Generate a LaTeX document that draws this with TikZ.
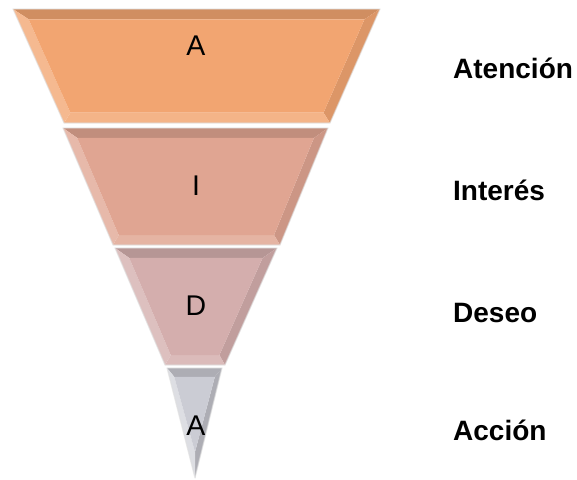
\documentclass[tikz,border=0pt]{standalone}
\usepackage{fontspec}
\setmainfont{Liberation Sans}
\usetikzlibrary{calc}

\definecolor{bandA}{HTML}{F2A571}
\definecolor{bandI}{HTML}{E0A592}
\definecolor{bandD}{HTML}{D4AEAD}
\definecolor{bandC}{HTML}{CBCCD4}

% bevelled band: #1 colour, #2-#5 corners (tl,tr,br,bl), #6 inset fraction, #7 bevel width
\newcommand{\bevelband}[7]{%
  \coordinate (tl) at #2; \coordinate (tr) at #3;
  \coordinate (br) at #4; \coordinate (bl) at #5;
  \coordinate (itl) at ($(tl)!#6!(bl)+(#7,0)$);
  \coordinate (itr) at ($(tr)!#6!(br)+(-#7,0)$);
  \coordinate (ibr) at ($(br)!#6!(tr)+(-#7,0)$);
  \coordinate (ibl) at ($(bl)!#6!(tl)+(#7,0)$);
  \fill[#1!86!black] (tl) -- (tr) -- (itr) -- (itl) -- cycle;
  \fill[#1!91!black] (tr) -- (br) -- (ibr) -- (itr) -- cycle;
  \fill[#1!84!white] (br) -- (bl) -- (ibl) -- (ibr) -- cycle;
  \fill[#1!78!white] (bl) -- (tl) -- (itl) -- (ibl) -- cycle;
  \fill[#1] (itl) -- (itr) -- (ibr) -- (ibl) -- cycle;
  \draw[rim] (tl) -- (tr) -- (br) -- (bl) -- cycle;
}

\begin{document}
\begin{tikzpicture}[
    x=1pt, y=-1pt,
    rim/.style={draw=white!75!gray, line width=1.2pt, line join=round, opacity=0.6},
    letter/.style={anchor=base, inner sep=0pt, font=\fontsize{28.5}{32}\selectfont},
    stage/.style={anchor=base west, inner sep=0pt, font=\fontsize{28}{32}\selectfont\bfseries}
]
\useasboundingbox (0,0) rectangle (577,479);

% funnel bands
\bevelband{bandA}{(13,9)}{(380,9)}{(330,123)}{(64,123)}{0.09}{11}
\bevelband{bandI}{(63,128)}{(328,128)}{(280,245)}{(113,245)}{0.085}{10}
\bevelband{bandD}{(115,248)}{(277,248)}{(225,365)}{(165,365)}{0.085}{10}

% bottom tip
\coordinate (ctl) at (167,368);
\coordinate (ctr) at (222,368);
\coordinate (tip) at (195,478);
\coordinate (ictl) at ($(ctl)!0.08!(tip)+(5,0)$);
\coordinate (ictr) at ($(ctr)!0.08!(tip)+(-5,0)$);
\coordinate (itip) at (195,452);
\fill[bandC!85!black] (ctl) -- (ctr) -- (ictr) -- (ictl) -- cycle;
\fill[bandC!85!black] (ctr) -- (tip) -- (itip) -- (ictr) -- cycle;
\fill[bandC!65!white] (tip) -- (ctl) -- (ictl) -- (itip) -- cycle;
\fill[bandC] (ictl) -- (ictr) -- (itip) -- cycle;
\draw[rim] (ctl) -- (ctr) -- (tip) -- cycle;

% letters in the funnel
\node[letter] (fa) at (196,55) {A};
\node[letter] (fi) at (196,195) {I};
\node[letter] (fd) at (196,315) {D};
\node[letter] (fc) at (196,435) {A};

% stage names
\node[stage] (atencion) at (453,78) {Atención};
\node[stage] (interes) at (453,200) {Interés};
\node[stage] (deseo) at (453,322) {Deseo};
\node[stage] (accion) at (453,440) {Acción};
\end{tikzpicture}
\end{document}
